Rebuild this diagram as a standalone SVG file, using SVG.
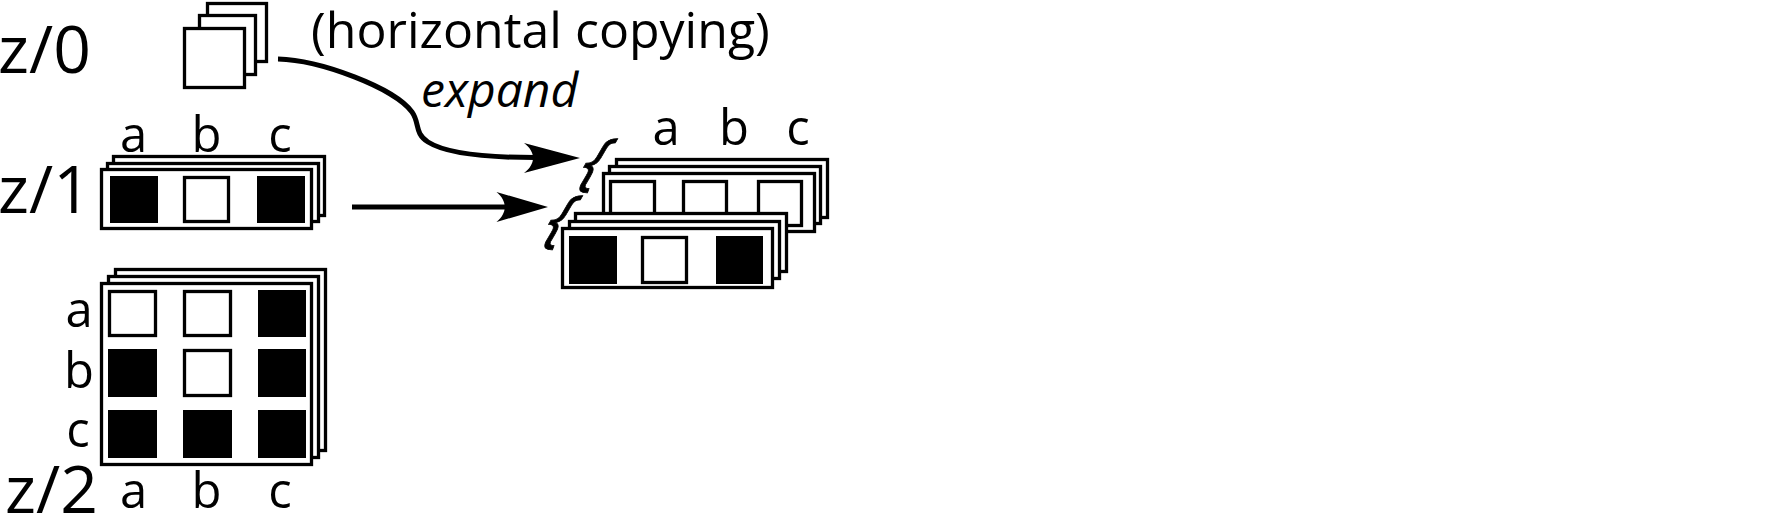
<svg xmlns="http://www.w3.org/2000/svg" width="1772" height="522" viewBox="0 0 1772 522">
<style>
.sheet{fill:#fff;stroke:#000;stroke-width:3.3}
.off{fill:#fff;stroke:#000;stroke-width:3.3}
.on{fill:#000}
.lbl{font-family:"Open Sans","Noto Sans","Liberation Sans",sans-serif;fill:#000}
.zl{font-size:66px}
.ab{font-size:49px;text-anchor:middle}
.conn{fill:none;stroke:#000;stroke-width:5}
.brace{font-family:"Open Sans","Noto Sans","Liberation Sans",sans-serif;font-style:italic;font-size:62px;fill:#000;stroke:#000;stroke-width:0.8}
</style>
<defs>
<path id="ah" d="M0,0 L-56,-15 C-44,-6 -44,6 -56,15 Z" fill="#000"/>
</defs>
<rect width="1772" height="522" fill="#fff"/>

<g id="labels-z">
<text class="lbl zl" x="-2" y="73">z/0</text>
<text class="lbl zl" x="-2" y="213">z/1</text>
<text class="lbl zl" x="5" y="513">z/2</text>
</g>

<g id="z0-stack">
<rect class="sheet" x="207.5" y="3.5" width="59" height="58"/>
<rect class="sheet" x="199.5" y="15.5" width="56" height="59"/>
<rect class="sheet" x="184.5" y="28.5" width="60" height="59"/>
</g>

<g id="z1-row">
<text class="lbl ab" x="133.5" y="152">a</text>
<text class="lbl ab" x="206.5" y="152">b</text>
<text class="lbl ab" x="280" y="152">c</text>
<rect class="sheet" x="113.5" y="156.5" width="211" height="59"/>
<rect class="sheet" x="107.5" y="163.5" width="211" height="58"/>
<rect class="sheet" x="101.5" y="169.5" width="210" height="59"/>
<rect class="on" x="110" y="176" width="48" height="47"/>
<rect class="off" x="184.5" y="177.5" width="44" height="44"/>
<rect class="on" x="257" y="176" width="48" height="47"/>
</g>

<g id="z2-grid">
<rect class="sheet" x="115.5" y="269.5" width="210" height="181"/>
<rect class="sheet" x="108.5" y="276.5" width="210" height="181"/>
<rect class="sheet" x="101.5" y="283.5" width="210" height="181"/>
<rect class="off" x="109.5" y="291.5" width="46" height="44"/>
<rect class="off" x="184.5" y="291.5" width="46" height="44"/>
<rect class="on" x="258" y="290" width="48" height="47"/>
<rect class="on" x="108" y="349" width="49" height="48"/>
<rect class="off" x="184.5" y="350.5" width="46" height="45"/>
<rect class="on" x="258" y="349" width="48" height="48"/>
<rect class="on" x="108" y="410" width="49" height="48"/>
<rect class="on" x="183" y="410" width="49" height="48"/>
<rect class="on" x="258" y="410" width="48" height="48"/>
<text class="lbl ab" x="79" y="327">a</text>
<text class="lbl ab" x="79" y="388">b</text>
<text class="lbl ab" x="78" y="447">c</text>
<text class="lbl ab" x="133.5" y="508">a</text>
<text class="lbl ab" x="206.5" y="508">b</text>
<text class="lbl ab" x="280" y="508">c</text>
</g>

<g id="result">
<text class="lbl ab" x="666" y="145">a</text>
<text class="lbl ab" x="734" y="145">b</text>
<text class="lbl ab" x="798" y="145">c</text>
<rect class="sheet" x="616.5" y="159.5" width="211" height="58"/>
<rect class="sheet" x="609.5" y="166.5" width="211" height="57"/>
<rect class="sheet" x="603.5" y="173.5" width="211" height="58"/>
<rect class="off" x="610.5" y="181.5" width="44" height="44"/>
<rect class="off" x="683.5" y="181.5" width="43" height="44"/>
<rect class="off" x="758.5" y="181.5" width="43" height="44"/>
<rect class="sheet" x="575.5" y="213.5" width="211" height="58"/>
<rect class="sheet" x="569.5" y="221.5" width="210" height="57"/>
<rect class="sheet" x="562.5" y="228.5" width="210" height="59"/>
<rect class="on" x="569" y="236" width="48" height="48"/>
<rect class="off" x="642.5" y="237.5" width="44" height="45"/>
<rect class="on" x="716" y="236" width="47" height="48"/>
</g>

<g id="annotations">
<text class="lbl" x="311" y="48" font-size="50">(horizontal copying)</text>
<text class="lbl" x="421" y="107" font-size="48" font-style="italic">expand</text>
<text class="brace" transform="translate(577,183) skewX(-20)" x="0" y="0">{</text>
<text class="brace" transform="translate(542,240) skewX(-20)" x="0" y="0">{</text>
</g>

<g id="connectors">
<path class="conn" d="M278,59 C320,60 395,88 412,112 C420,123 414,133 428,142 C450,156 500,158 545,157.5"/>
<use href="#ah" transform="translate(580,158)"/>
<path class="conn" d="M352,207 L515,207"/>
<use href="#ah" transform="translate(548,207) scale(0.92,1)"/>
</g>
</svg>
